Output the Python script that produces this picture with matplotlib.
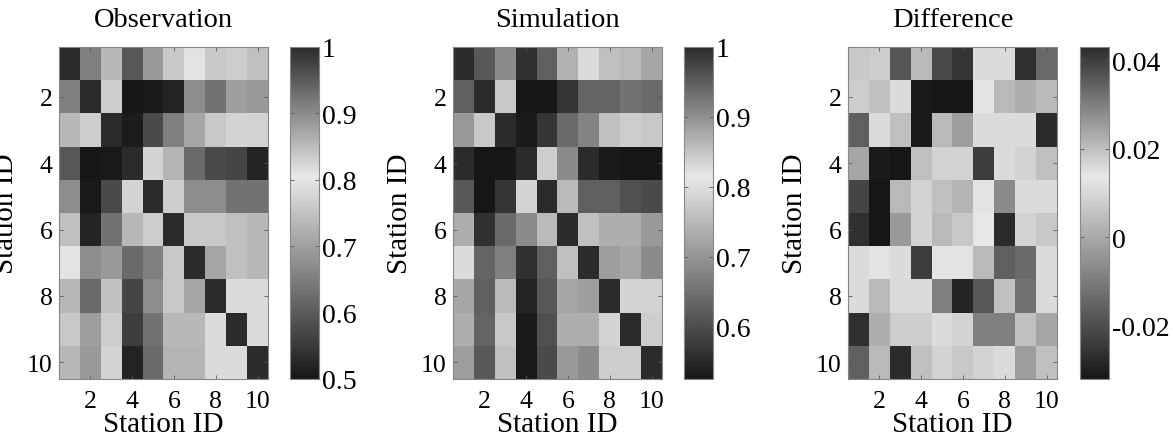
import numpy as np
import matplotlib
matplotlib.use("Agg")
import matplotlib.pyplot as plt
from matplotlib.colors import LinearSegmentedColormap
from matplotlib.ticker import FuncFormatter

plt.rcParams['font.family'] = ['Liberation Serif', 'DejaVu Serif']
plt.rcParams['axes.unicode_minus'] = False

titles = ["Observation", "Simulation", "Difference"]
axis_label = "Station ID"
station_ticks = [2, 4, 6, 8, 10]

observation = [
    [1.000, 0.653, 0.736, 0.595, 0.691, 0.759, 0.797, 0.759, 0.767, 0.748],
    [0.653, 1.000, 0.767, 0.500, 0.505, 0.519, 0.672, 0.633, 0.698, 0.691],
    [0.736, 0.767, 1.000, 0.508, 0.576, 0.653, 0.710, 0.759, 0.775, 0.775],
    [0.595, 0.500, 0.505, 1.000, 0.775, 0.729, 0.622, 0.576, 0.569, 0.519],
    [0.672, 0.505, 0.576, 0.775, 1.000, 0.767, 0.672, 0.672, 0.633, 0.633],
    [0.748, 0.519, 0.633, 0.736, 0.767, 1.000, 0.759, 0.759, 0.748, 0.736],
    [0.797, 0.672, 0.691, 0.622, 0.653, 0.759, 1.000, 0.710, 0.748, 0.736],
    [0.736, 0.622, 0.748, 0.569, 0.672, 0.759, 0.710, 1.000, 0.786, 0.786],
    [0.759, 0.698, 0.767, 0.557, 0.633, 0.736, 0.736, 0.786, 1.000, 0.786],
    [0.736, 0.691, 0.775, 0.519, 0.622, 0.729, 0.729, 0.786, 0.786, 1.000],
]

simulation = [
    [1.000, 0.616, 0.688, 0.561, 0.626, 0.742, 0.797, 0.760, 0.750, 0.724],
    [0.626, 1.000, 0.771, 0.525, 0.525, 0.568, 0.634, 0.634, 0.652, 0.641],
    [0.706, 0.771, 1.000, 0.532, 0.568, 0.641, 0.677, 0.760, 0.779, 0.771],
    [0.554, 0.525, 0.525, 1.000, 0.779, 0.688, 0.554, 0.532, 0.525, 0.525],
    [0.616, 0.525, 0.568, 0.786, 1.000, 0.750, 0.626, 0.626, 0.605, 0.597],
    [0.735, 0.561, 0.641, 0.688, 0.750, 1.000, 0.760, 0.735, 0.735, 0.706],
    [0.797, 0.634, 0.670, 0.561, 0.626, 0.760, 1.000, 0.713, 0.724, 0.688],
    [0.724, 0.626, 0.750, 0.543, 0.616, 0.724, 0.713, 1.000, 0.786, 0.786],
    [0.735, 0.634, 0.771, 0.532, 0.605, 0.735, 0.735, 0.786, 1.000, 0.779],
    [0.713, 0.616, 0.760, 0.532, 0.597, 0.706, 0.688, 0.779, 0.779, 1.000],
]

difference = [
    [0.0069, 0.0080, 0.0361, 0.0035, 0.0381, 0.0414, 0.0109, 0.0109, 0.0422, 0.0332],
    [0.0080, 0.0052, 0.0109, -0.0309, -0.0320, -0.0320, 0.0126, 0.0035, 0.0012, 0.0035],
    [-0.0160, 0.0109, 0.0052, -0.0309, 0.0035, -0.0023, 0.0109, 0.0109, 0.0109, 0.0430],
    [-0.0005, -0.0309, -0.0320, 0.0052, 0.0092, 0.0092, 0.0401, 0.0109, 0.0092, 0.0052],
    [-0.0217, -0.0320, 0.0035, 0.0092, 0.0052, 0.0023, 0.0126, -0.0063, 0.0109, 0.0109],
    [-0.0263, -0.0320, -0.0034, 0.0092, 0.0035, 0.0069, 0.0138, 0.0430, 0.0092, 0.0069],
    [0.0109, 0.0126, 0.0109, -0.0234, 0.0126, 0.0126, 0.0035, -0.0160, -0.0137, 0.0109],
    [0.0109, 0.0035, 0.0109, 0.0109, -0.0091, -0.0291, -0.0177, 0.0052, -0.0120, 0.0109],
    [0.0422, 0.0012, 0.0080, 0.0080, 0.0109, 0.0092, -0.0091, -0.0091, 0.0052, -0.0005],
    [-0.0160, 0.0035, -0.0274, 0.0052, 0.0092, 0.0069, 0.0092, 0.0109, -0.0023, 0.0052],
]

cbar_ticks = [
    [0.5, 0.6, 0.7, 0.8, 0.9, 1.0],
    [0.6, 0.7, 0.8, 0.9, 1.0],
    [-0.02, 0, 0.02, 0.04],
]

cmap = LinearSegmentedColormap.from_list(
    "bwb", [(0.0, (0.09, 0.09, 0.09)), (0.61, (0.91, 0.91, 0.91)), (1.0, (0.17, 0.17, 0.17))])

fig = plt.figure(figsize=(11.73, 4.35), dpi=100)

W, H = 1173.0, 435.0
ax_lefts = [59, 453, 848]
cb_lefts = [290, 684, 1080]
ax_w = 209
cb_w = 29
top_px, bot_px = 48, 380

def fmt(v, pos):
    return "%g" % v

datasets = [observation, simulation, difference]
for i, data in enumerate(datasets):
    arr = np.array(data)
    ax = fig.add_axes([ax_lefts[i] / W, 1 - bot_px / H, ax_w / W, (bot_px - top_px) / H])
    im = ax.imshow(arr, cmap=cmap, aspect='auto', interpolation='nearest',
                   extent=[0.5, 10.5, 10.5, 0.5])
    ax.set_xticks(station_ticks)
    ax.set_yticks(station_ticks)
    ax.tick_params(direction='in', length=3, width=0.6, color='#555555',
                   top=True, right=True, labelsize=18.5)
    ax.tick_params(axis='x', pad=8)
    ax.tick_params(axis='y', pad=4.5)
    for s in ax.spines.values():
        s.set_color('#888888')
        s.set_linewidth(0.8)
    ax.set_title(titles[i], fontsize=20.5, pad=15)
    ax.set_xlabel(axis_label, fontsize=21, labelpad=-1)
    ax.set_ylabel(axis_label, fontsize=21, labelpad=6)

    cax = fig.add_axes([cb_lefts[i] / W, 1 - bot_px / H, cb_w / W, (bot_px - top_px) / H])
    cb = fig.colorbar(im, cax=cax)
    cb.set_ticks(cbar_ticks[i])
    cb.ax.yaxis.set_major_formatter(FuncFormatter(fmt))
    cb.ax.tick_params(direction='in', length=3, width=0.6, color='#555555',
                      left=True, right=True, labelsize=20, pad=2)
    cb.outline.set_edgecolor('#888888')
    cb.outline.set_linewidth(0.8)

fig.savefig("out.png", dpi=100)
